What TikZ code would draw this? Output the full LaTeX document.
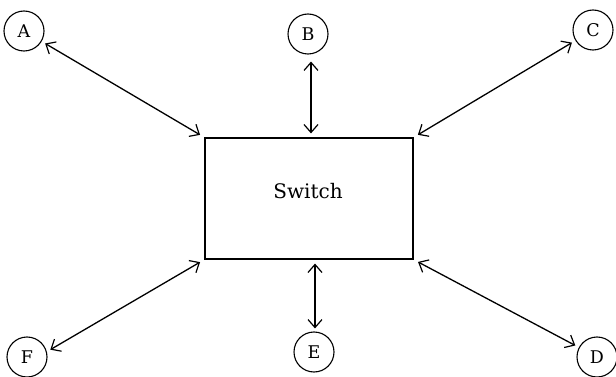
\documentclass[tikz,border=0pt]{standalone}
\usepackage{fontspec}
\setmainfont{DejaVu Serif}
\usetikzlibrary{arrows.meta}
\tikzset{
  term/.style={draw, circle, minimum size=40pt, inner sep=0pt, line width=1.1pt, font=\fontsize{17.5}{17.5}\selectfont},
  swbox/.style={draw, rectangle, minimum width=208pt, minimum height=121pt, line width=1.2pt},
  lbl/.style={font=\fontsize{20}{20}\selectfont},
  arr/.style={line width=1.3pt, {Straight Barb[length=8pt,width=14pt,line width=1.2pt]}-{Straight Barb[length=8pt,width=14pt,line width=1.2pt]}}
}
\begin{document}
\begin{tikzpicture}[x=1pt,y=-1pt]
\useasboundingbox (0,0) rectangle (616,377);
\node[swbox] (sw) at (309,198.5) {};
\node[lbl] (txt) at (308,191) {Switch};
\node[term] (A) at (24,31) {A};
\node[term] (B) at (308,34) {B};
\node[term] (C) at (593,30) {C};
\node[term] (D) at (597,357) {D};
\node[term] (E) at (314,352) {E};
\node[term] (F) at (27,357) {F};
\draw[arr, shorten <=4pt, shorten >=5pt] (A) -- (sw.north west);
\draw[arr, shorten <=4pt, shorten >=5pt] (C) -- (sw.north east);
\draw[arr, shorten <=4pt, shorten >=5pt] (D) -- (sw.south east);
\draw[arr, shorten <=4pt, shorten >=5pt] (F.15) -- (sw.south west);
\draw[arr, shorten <=7pt, shorten >=4pt] (B.south -| 311,0) -- (311,0 |- sw.north);
\draw[arr, shorten <=4pt, shorten >=3pt] (315,0 |- sw.south) -- (E.north -| 315,0);
\end{tikzpicture}
\end{document}
